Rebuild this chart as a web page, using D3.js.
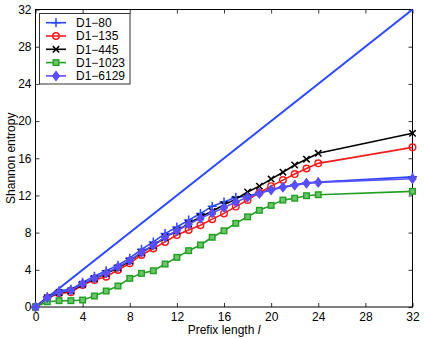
<!DOCTYPE html>
<html>
<head>
<meta charset="utf-8">
<script src="https://cdn.jsdelivr.net/npm/d3@7"></script>
<style>
  body { margin: 0; background: #fff; }
  text { font-family: "Liberation Sans", Arial, sans-serif; font-size: 12px; fill: #000; }
</style>
</head>
<body>
<div id="chart"></div>
<script>
// Prefix lengths and entropy per dataset
const prefixLen = [0, 1, 2, 3, 4, 5, 6, 7, 8, 9, 10, 11, 12, 13, 14, 15, 16, 17, 18, 19, 20, 21, 22, 23, 24, 32]
const d1_80   = [0, 1.1, 1.75, 1.9, 2.65, 3.3, 3.9, 4.5, 5.25, 6.2, 7.0, 7.9, 8.6, 9.35, 10.05, 10.85, 11.3, 11.8, 11.9, 12.3, 12.65, 12.9, 13.15, 13.35, 13.45, 14.0]
const d1_135  = [0, 0.95, 1.47, 1.58, 2.37, 2.9, 3.26, 3.98, 4.7, 5.6, 6.3, 7.0, 7.74, 8.28, 8.8, 9.45, 10.07, 10.8, 11.5, 12.3, 13.0, 13.65, 14.3, 14.9, 15.45, 17.17]
const d1_445  = [0, 1.0, 1.55, 1.75, 2.45, 3.05, 3.6, 4.2, 4.95, 5.85, 6.6, 7.5, 8.2, 8.95, 9.7, 10.3, 11.0, 11.6, 12.37, 13.0, 13.76, 14.5, 15.27, 15.9, 16.53, 18.68]
const d1_1023 = [0, 0.57, 0.68, 0.68, 0.75, 1.18, 1.72, 2.26, 3.08, 3.62, 3.9, 4.62, 5.34, 6.06, 6.67, 7.5, 8.2, 9.0, 9.7, 10.4, 10.93, 11.5, 11.7, 11.97, 12.08, 12.44]
const d1_6129 = [0, 1.0, 1.6, 1.8, 2.5, 3.1, 3.65, 4.3, 5.0, 5.9, 6.65, 7.5, 8.2, 8.9, 9.55, 10.1, 10.7, 11.3, 11.8, 12.2, 12.58, 12.87, 13.1, 13.3, 13.4, 13.8]
// upper bound line (entropy = prefix length)
const boundX = [0, 32]
const boundY = [0, 32]
const tickVals = [0, 4, 8, 12, 16, 20, 24, 28, 32]

const series = [
  { name: 'D1\u221280',   values: d1_80,   color: '#2a47ff', marker: 'plus' },
  { name: 'D1\u2212135',  values: d1_135,  color: '#f21c1c', marker: 'circle' },
  { name: 'D1\u2212445',  values: d1_445,  color: '#000000', marker: 'cross' },
  { name: 'D1\u22121023', values: d1_1023, color: '#22a022', marker: 'square' },
  { name: 'D1\u22126129', values: d1_6129, color: '#5a4ef8', marker: 'diamond' }
]

const width = 425
const height = 338
const plot = { left: 35.5, right: 412.5, top: 9.5, bottom: 307 }

const svg = d3.select('#chart')
  .append('svg')
  .attr('width', width)
  .attr('height', height)

const x = d3.scaleLinear().domain([0, 32]).range([plot.left, plot.right])
const y = d3.scaleLinear().domain([0, 32]).range([plot.bottom, plot.top])

// Axes (ticks point inward, box around)
svg.append('g')
  .attr('transform', `translate(0, ${plot.bottom})`)
  .call(d3.axisBottom(x).tickValues(tickVals).tickSizeInner(-4).tickSizeOuter(0).tickPadding(5))
svg.append('g')
  .attr('transform', `translate(0, ${plot.top})`)
  .call(d3.axisTop(x).tickValues(tickVals).tickSizeInner(-4).tickSizeOuter(0).tickFormat(''))
svg.append('g')
  .attr('transform', `translate(${plot.left}, 0)`)
  .call(d3.axisLeft(y).tickValues(tickVals).tickSizeInner(-4).tickSizeOuter(0).tickPadding(4))
svg.append('g')
  .attr('transform', `translate(${plot.right}, 0)`)
  .call(d3.axisRight(y).tickValues(tickVals).tickSizeInner(-4).tickSizeOuter(0).tickFormat(''))

svg.selectAll('.domain').remove()
svg.selectAll('.tick line').attr('stroke', '#000').attr('stroke-width', 0.8)
svg.selectAll('.tick text').attr('font-size', 12).attr('font-family', '"Liberation Sans", Arial, sans-serif').attr('fill', '#000')

svg.append('rect')
  .attr('x', plot.left)
  .attr('y', plot.top)
  .attr('width', plot.right - plot.left)
  .attr('height', plot.bottom - plot.top)
  .attr('fill', 'none')
  .attr('stroke', '#000')
  .attr('stroke-width', 1)

// Axis labels
const xl = svg.append('text')
  .attr('x', (plot.left + plot.right) / 2)
  .attr('y', 334)
  .attr('text-anchor', 'middle')
xl.append('tspan').text('Prefix length ')
xl.append('tspan').attr('font-style', 'italic').text('l')

svg.append('text')
  .attr('transform', `translate(15, ${(plot.top + plot.bottom) / 2}) rotate(-90)`)
  .attr('text-anchor', 'middle')
  .text('Shannon entropy')

// Marker drawing helper
function drawMarker(g, type, color) {
  if (type === 'plus') {
    g.append('path').attr('d', 'M-4.5,0H4.5M0,-4.5V4.5')
      .attr('stroke', color).attr('stroke-width', 1.5).attr('fill', 'none')
  } else if (type === 'cross') {
    g.append('path').attr('d', 'M-3.2,-3.2L3.2,3.2M-3.2,3.2L3.2,-3.2')
      .attr('stroke', color).attr('stroke-width', 1.5).attr('fill', 'none')
  } else if (type === 'circle') {
    g.append('circle').attr('r', 3.3)
      .attr('stroke', color).attr('stroke-width', 1.4).attr('fill', 'none')
  } else if (type === 'square') {
    g.append('rect').attr('x', -2.8).attr('y', -2.8).attr('width', 5.6).attr('height', 5.6)
      .attr('stroke', color).attr('stroke-width', 1.4).attr('fill', '#6cc46c')
  } else if (type === 'diamond') {
    g.append('path').attr('d', 'M0,-4.5L3.5,0L0,4.5L-3.5,0Z')
      .attr('stroke', color).attr('stroke-width', 1.2).attr('fill', color)
  }
}

const plotArea = svg.append('g')

// Bound line
plotArea.append('path')
  .datum(boundX.map((d, i) => [d, boundY[i]]))
  .attr('d', d3.line().x(d => x(d[0])).y(d => y(d[1])))
  .attr('fill', 'none')
  .attr('stroke', series[0].color)
  .attr('stroke-width', 2)

const line = d3.line().x(d => x(d[0])).y(d => y(d[1]))

series.forEach(s => {
  const pts = prefixLen.map((l, i) => [l, s.values[i]])
  plotArea.append('path')
    .datum(pts)
    .attr('d', line)
    .attr('fill', 'none')
    .attr('stroke', s.color)
    .attr('stroke-width', 1.6)
  pts.forEach(p => {
    const g = plotArea.append('g').attr('transform', `translate(${x(p[0])}, ${y(p[1])})`)
    drawMarker(g, s.marker, s.color)
  })
})

// Legend
const legend = svg.append('g')
legend.append('rect')
  .attr('x', 39.5)
  .attr('y', 13.5)
  .attr('width', 90.5)
  .attr('height', 70.5)
  .attr('fill', '#fff')
  .attr('stroke', '#333')
  .attr('stroke-width', 1)

series.forEach((s, i) => {
  const ly = 22.7 + i * 13.3
  legend.append('line')
    .attr('x1', 46).attr('x2', 66)
    .attr('y1', ly).attr('y2', ly)
    .attr('stroke', s.color).attr('stroke-width', 1.6)
  drawMarker(legend.append('g').attr('transform', `translate(56, ${ly})`), s.marker, s.color)
  legend.append('text')
    .attr('x', 76)
    .attr('y', ly + 4.3)
    .text(s.name)
})
</script>
</body>
</html>
